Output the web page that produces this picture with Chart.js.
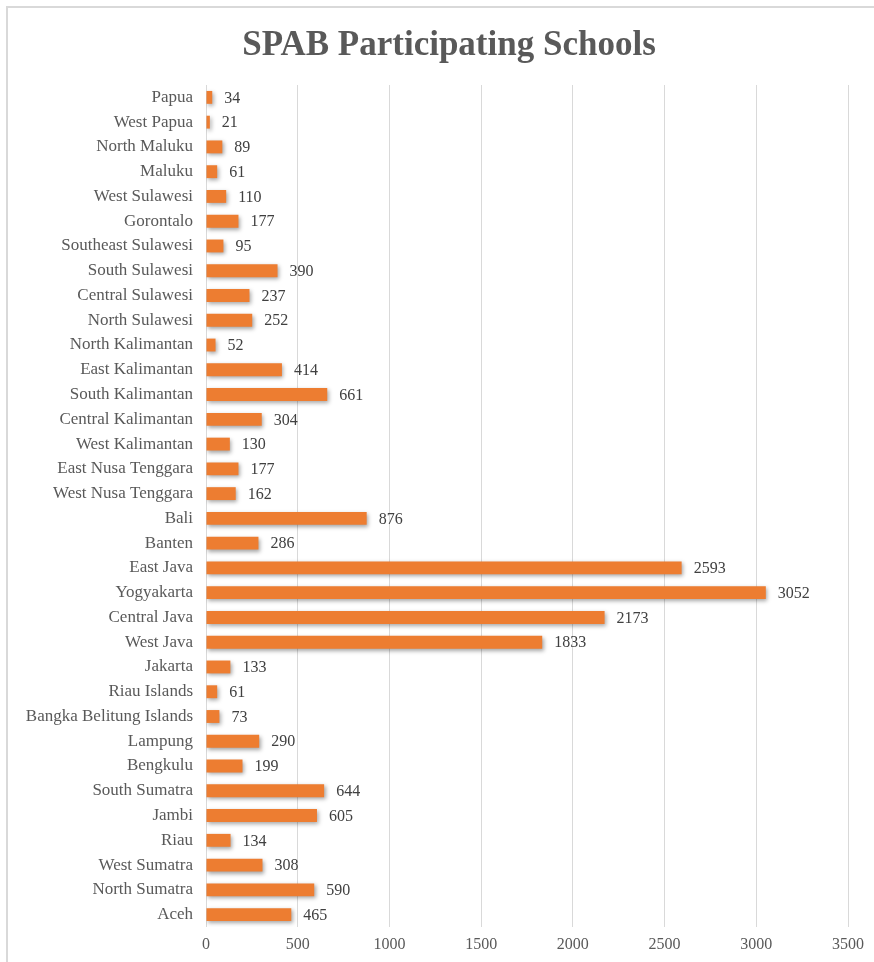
<!DOCTYPE html>
<html>
<head>
<meta charset="utf-8">
<script src="https://cdn.jsdelivr.net/npm/chart.js@4"></script>
<style>
  html, body { margin: 0; padding: 0; background: #fff; overflow: hidden; }
  #frame { position: absolute; left: 6px; top: 6px; width: 900px; height: 1000px; border: 2px solid #d9d9d9; box-sizing: border-box; }
  #wrap { position: absolute; left: 0; top: 0; width: 874px; height: 962px; }
</style>
</head>
<body>
<div id="frame"></div>
<div id="wrap"><canvas id="c" width="874" height="962"></canvas></div>
<script>
const titleText = "SPAB Participating Schools";
const provinces = [
  "Papua", "West Papua", "North Maluku", "Maluku", "West Sulawesi", "Gorontalo",
  "Southeast Sulawesi", "South Sulawesi", "Central Sulawesi", "North Sulawesi",
  "North Kalimantan", "East Kalimantan", "South Kalimantan", "Central Kalimantan",
  "West Kalimantan", "East Nusa Tenggara", "West Nusa Tenggara", "Bali", "Banten",
  "East Java", "Yogyakarta", "Central Java", "West Java", "Jakarta", "Riau Islands",
  "Bangka Belitung Islands", "Lampung", "Bengkulu", "South Sumatra", "Jambi", "Riau",
  "West Sumatra", "North Sumatra", "Aceh"
];
const schools = [
  34, 21, 89, 61, 110, 177,
  95, 390, 237, 252,
  52, 414, 661, 304,
  130, 177, 162, 876, 286,
  2593, 3052, 2173, 1833, 133, 61,
  73, 290, 199, 644, 605, 134,
  308, 590, 465
];
const xTicks = [0, 500, 1000, 1500, 2000, 2500, 3000, 3500];

const SERIF = "'Liberation Serif', 'Times New Roman', serif";

const shadowPlugin = {
  id: 'barShadow',
  beforeDatasetDraw(chart) {
    const ctx = chart.ctx;
    ctx.save();
    ctx.shadowColor = 'rgba(0,0,0,0.35)';
    ctx.shadowBlur = 4;
    ctx.shadowOffsetX = 1.5;
    ctx.shadowOffsetY = 2;
  },
  afterDatasetDraw(chart) {
    chart.ctx.restore();
  }
};

const valueLabels = {
  id: 'valueLabels',
  afterDatasetsDraw(chart) {
    const ctx = chart.ctx;
    const meta = chart.getDatasetMeta(0);
    ctx.save();
    ctx.font = "16px " + SERIF;
    ctx.fillStyle = '#404040';
    ctx.textAlign = 'left';
    ctx.textBaseline = 'middle';
    meta.data.forEach((bar, i) => {
      ctx.fillText(String(schools[i]), bar.x + 12, bar.y + 1);
    });
    ctx.restore();
  }
};

const titlePlugin = {
  id: 'customTitle',
  afterDraw(chart) {
    const ctx = chart.ctx;
    ctx.save();
    ctx.font = "bold 35px " + SERIF;
    ctx.fillStyle = '#595959';
    ctx.textAlign = 'center';
    ctx.textBaseline = 'middle';
    ctx.fillText(titleText, 449, 46);
    ctx.restore();
  }
};

new Chart(document.getElementById('c'), {
  type: 'bar',
  data: {
    labels: provinces,
    datasets: [{
      data: schools,
      backgroundColor: '#ED7D31',
      borderWidth: 0,
      categoryPercentage: 1,
      barPercentage: 0.52
    }]
  },
  options: {
    indexAxis: 'y',
    responsive: false,
    animation: false,
    devicePixelRatio: 1,
    layout: { padding: { top: 85, right: 26, bottom: 0, left: 0 } },
    plugins: {
      legend: { display: false },
      tooltip: { enabled: false },
      title: { display: false }
    },
    scales: {
      x: {
        min: 0,
        max: 3500,
        afterBuildTicks(scale) { scale.ticks = xTicks.map(v => ({ value: v })); },
        afterFit(scale) { scale.height = 35; },
        grid: { color: '#d9d9d9', lineWidth: 1, drawTicks: false },
        border: { display: false },
        ticks: {
          padding: 8,
          color: '#595959',
          font: { family: SERIF, size: 16 },
          callback: (v) => String(v)
        }
      },
      y: {
        afterFit(scale) { scale.width = 206; },
        grid: { display: false, drawTicks: false },
        border: { display: false },
        ticks: {
          padding: 13,
          color: '#595959',
          autoSkip: false,
          font: { family: SERIF, size: 17 }
        }
      }
    }
  },
  plugins: [shadowPlugin, valueLabels, titlePlugin]
});
</script>
</body>
</html>
